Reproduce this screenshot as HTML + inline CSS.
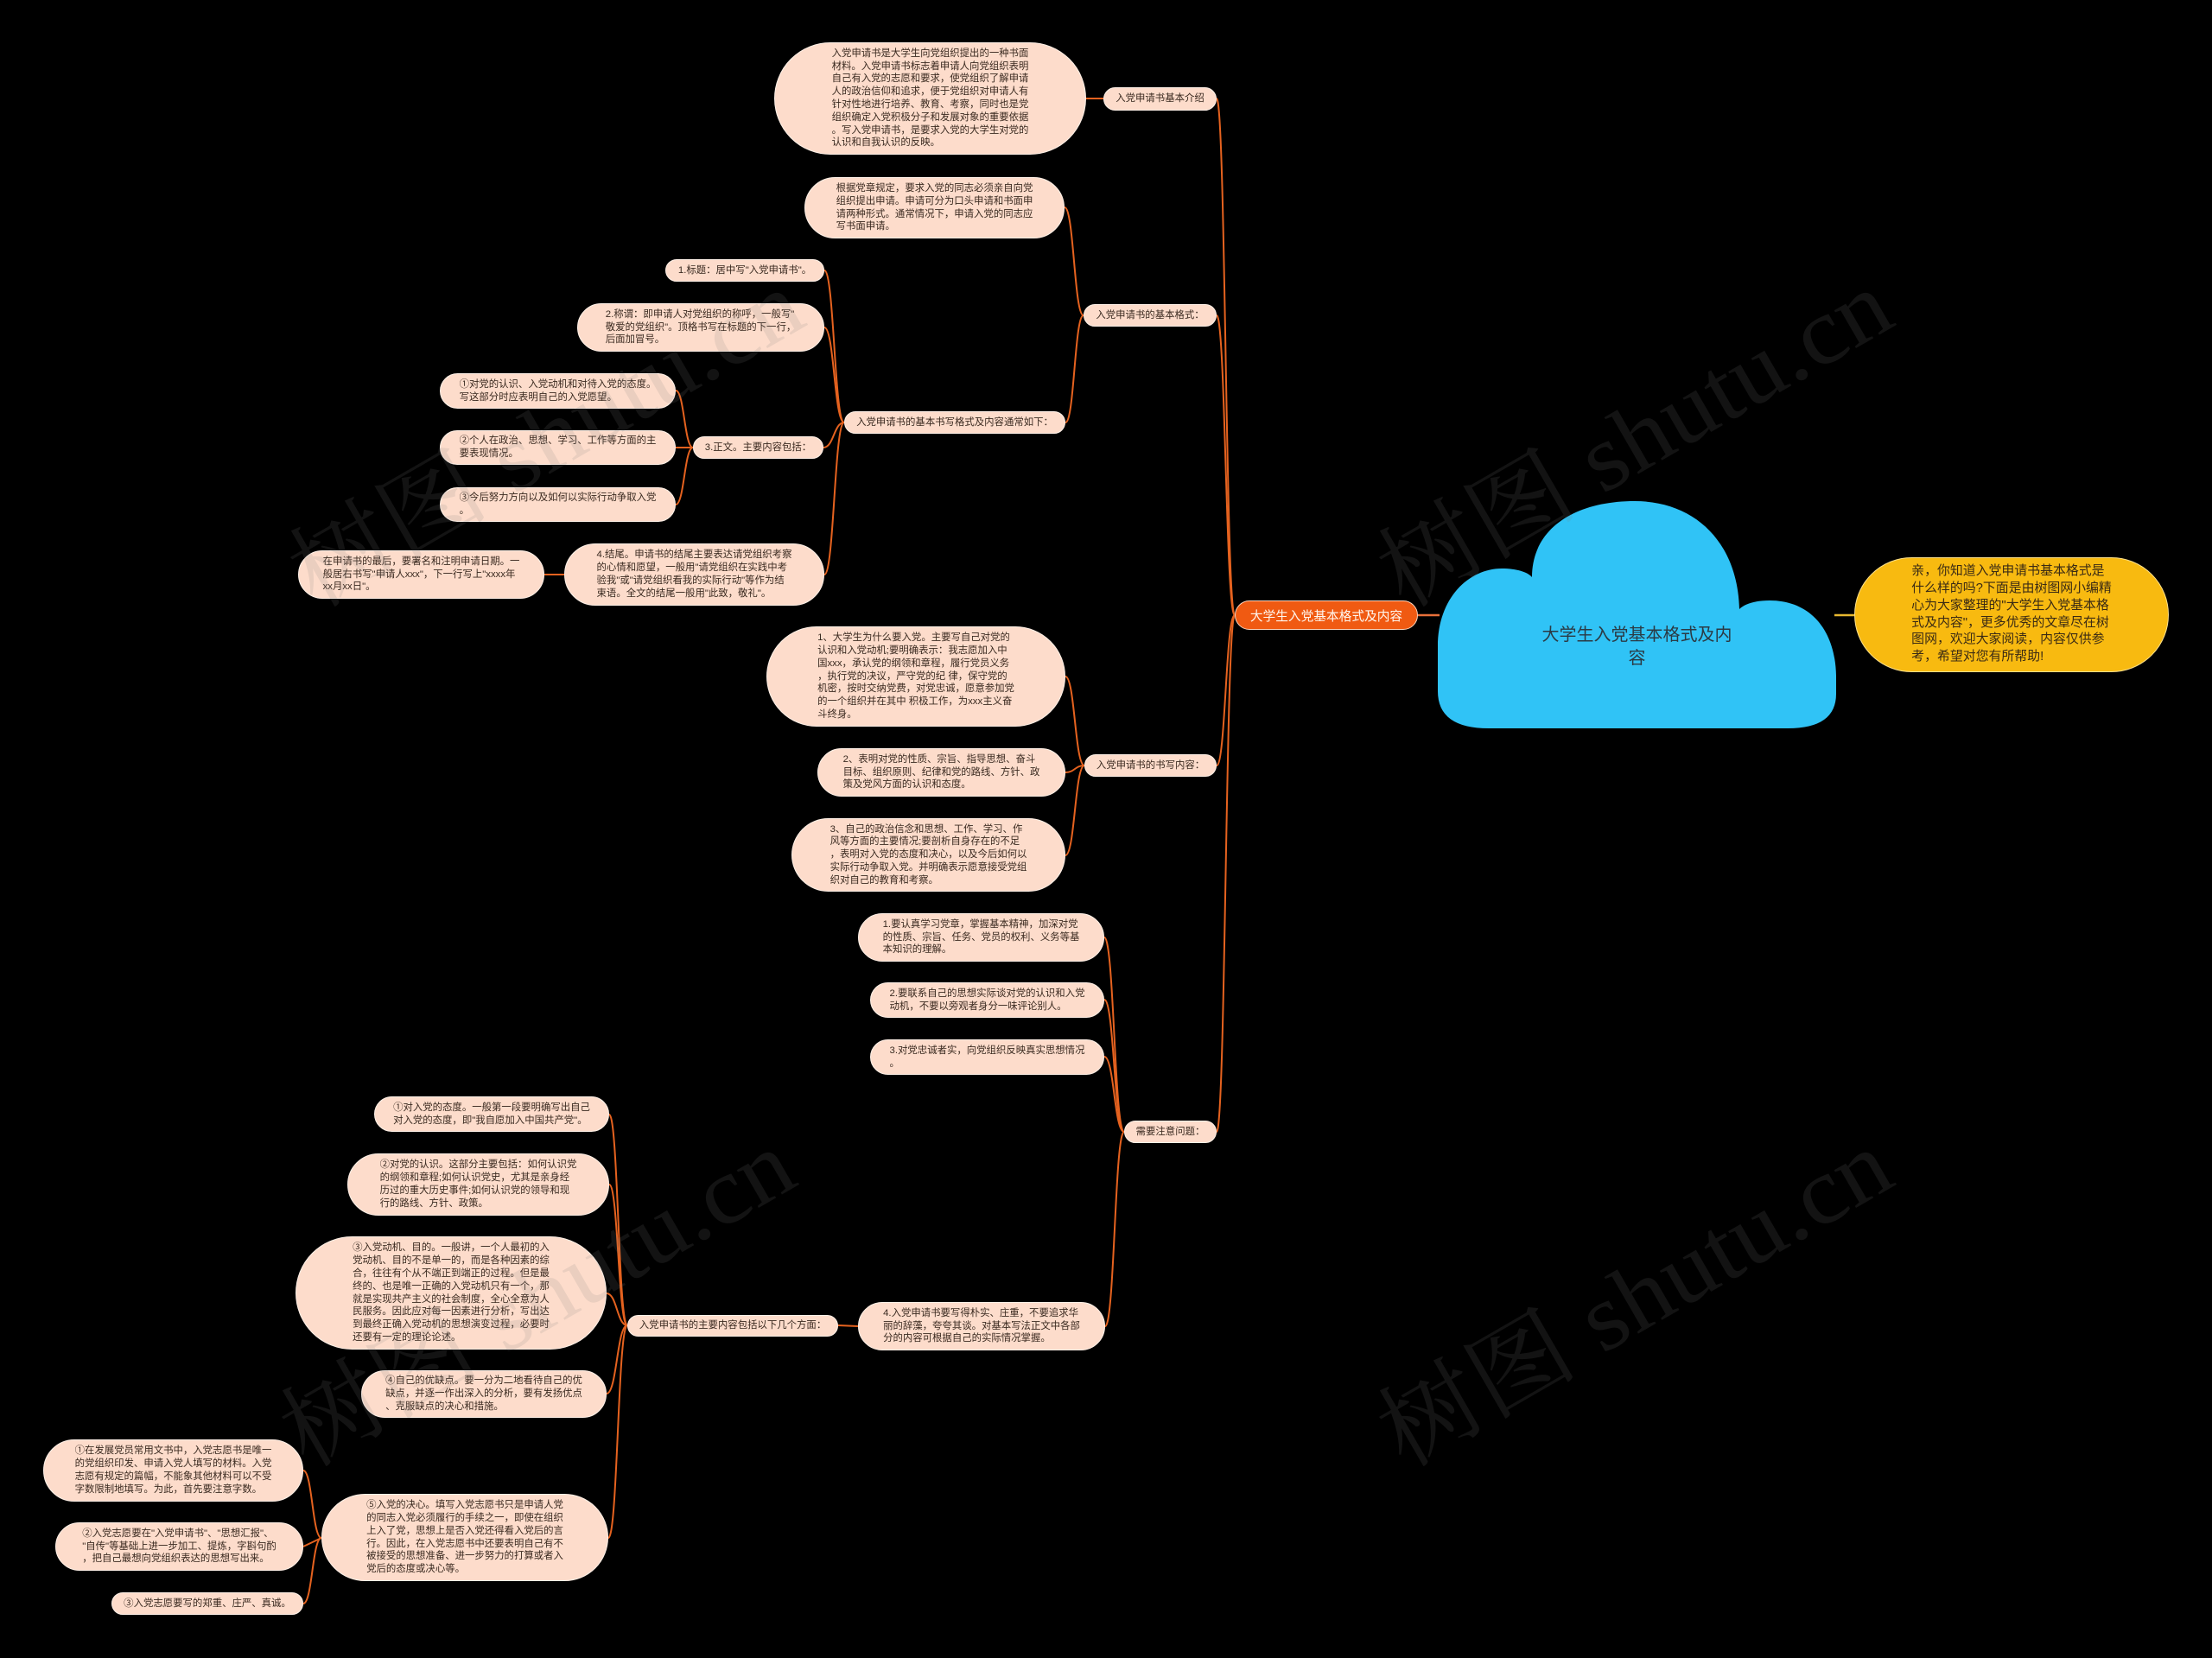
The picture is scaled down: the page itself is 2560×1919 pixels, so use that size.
<!DOCTYPE html>
<html lang="zh-CN">
<head>
<meta charset="utf-8">
<title>大学生入党基本格式及内容</title>
<style>
  html,body{margin:0;padding:0;}
  body{width:2560px;height:1919px;background:#000;position:relative;overflow:hidden;
       font-family:"Liberation Sans","Noto Sans CJK SC",sans-serif;}
  svg.layer{position:absolute;left:0;top:0;}
  .n{position:absolute;box-sizing:border-box;display:flex;align-items:center;justify-content:center;
     border-radius:999px;background:#fddccb;border:1px solid #fff1e8;color:#3a2a20;
     font-size:11.4px;line-height:14.8px;white-space:nowrap;}
  .n span{display:block;text-align:left;}
  .main{position:absolute;box-sizing:border-box;display:flex;align-items:center;justify-content:center;
     border-radius:999px;background:#f05a12;border:1.5px solid #fcd3bb;color:#fff6ee;
     font-size:14.7px;white-space:nowrap;}
  .yel{position:absolute;box-sizing:border-box;display:flex;align-items:center;justify-content:center;
     border-radius:999px;background:#f8ba10;border:1px solid #fde08a;color:#3a2a14;
     font-size:14.9px;line-height:19.7px;white-space:nowrap;}
  .yel span{display:block;text-align:left;}
  .cloudtxt{position:absolute;left:1664px;width:461px;top:722px;text-align:center;color:#2b3a44;
     font-size:20px;line-height:27px;}
</style>
</head>
<body>

<!-- connectors -->
<svg class="layer" width="2560" height="1919" viewBox="0 0 2560 1919">
  <g fill="none" stroke="#e5621f" stroke-width="2">
    <!-- main to branches -->
    <path d="M1429 712 C1418.5 712 1418.5 114 1408 114"/>
    <path d="M1429 712 C1418.5 712 1418.5 365 1408 365"/>
    <path d="M1429 712 C1418.5 712 1418.5 886 1408 886"/>
    <path d="M1429 712 C1418.5 712 1418.5 1310 1408 1310"/>
    <!-- intro -->
    <path d="M1277 114 L1257 114"/>
    <!-- basic format -->
    <path d="M1254 365 C1243 365 1243 240 1232 240"/>
    <path d="M1254 365 C1243.5 365 1243.5 489 1233 489"/>
    <!-- basic writing format -->
    <path d="M977 489 C965.5 489 965.5 313 954 313"/>
    <path d="M977 489 C965.5 489 965.5 379 954 379"/>
    <path d="M977 489 C965 489 965 518 953 518"/>
    <path d="M977 489 C965.5 489 965.5 665 954 665"/>
    <!-- body -->
    <path d="M802 518 C792 518 792 452 782 452"/>
    <path d="M802 518 L782 518"/>
    <path d="M802 518 C792 518 792 584 782 584"/>
    <!-- ending -->
    <path d="M653 665 L630 665"/>
    <!-- writing content -->
    <path d="M1255 886 C1244 886 1244 783 1233 783"/>
    <path d="M1255 886 C1244 886 1244 894 1233 894"/>
    <path d="M1255 886 C1244 886 1244 990 1233 990"/>
    <!-- notes -->
    <path d="M1301 1310 C1289.5 1310 1289.5 1085 1278 1085"/>
    <path d="M1301 1310 C1289.5 1310 1289.5 1157 1278 1157"/>
    <path d="M1301 1310 C1289.5 1310 1289.5 1223 1278 1223"/>
    <path d="M1301 1310 C1290 1310 1290 1535 1279 1535"/>
    <!-- note4 to main contents -->
    <path d="M993 1535 L970 1534"/>
    <!-- main contents -->
    <path d="M726 1534 C715.5 1534 715.5 1290 705 1290"/>
    <path d="M726 1534 C715.5 1534 715.5 1371 705 1371"/>
    <path d="M726 1534 C714 1534 714 1497 702 1497"/>
    <path d="M726 1534 C714 1534 714 1613 702 1613"/>
    <path d="M726 1534 C715 1534 715 1780 704 1780"/>
    <!-- resolve -->
    <path d="M372 1780 C361.5 1780 361.5 1702 351 1702"/>
    <path d="M372 1780 L351 1790"/>
    <path d="M372 1780 C361.5 1780 361.5 1856 351 1856"/>
    <!-- root to main -->
    <path d="M1641 712 L1666 712" stroke="#e8703a" stroke-width="2.5"/>
  </g>
  <path d="M2123 712 L2146 712" stroke="#e8b830" stroke-width="2.5" fill="none"/>

  <!-- cloud -->
  <path fill="#30c3f6" d="
    M1723 843
    Q1664 843 1664 800
    L1664 748
    C1664 692 1700 658 1738 658
    C1755 658 1768 662 1773 668
    C1773 612 1822 580 1892 580
    C1962 580 2011 628 2013 705
    C2020 698 2034 695 2048 695
    C2096 695 2124 730 2125 782
    L2125 803
    Q2125 843 2069 843
    Z"/>
</svg>

<div class="cloudtxt">大学生入党基本格式及内<br>容</div>

<!-- main topic -->
<div class="main" style="left:1429px;top:695px;width:212px;height:34px;">大学生入党基本格式及内容</div>

<!-- yellow summary -->
<div class="yel" style="left:2146px;top:645px;width:364px;height:133px;"><span>亲，你知道入党申请书基本格式是<br>什么样的吗?下面是由树图网小编精<br>心为大家整理的"大学生入党基本格<br>式及内容"，更多优秀的文章尽在树<br>图网，欢迎大家阅读，内容仅供参<br>考，希望对您有所帮助!</span></div>

<!-- branch: intro -->
<div class="n" style="left:1277px;top:101px;width:131px;height:27px;"><span>入党申请书基本介绍</span></div>
<div class="n" style="left:896px;top:49px;width:361px;height:130px;"><span>入党申请书是大学生向党组织提出的一种书面<br>材料。入党申请书标志着申请人向党组织表明<br>自己有入党的志愿和要求，使党组织了解申请<br>人的政治信仰和追求，便于党组织对申请人有<br>针对性地进行培养、教育、考察，同时也是党<br>组织确定入党积极分子和发展对象的重要依据<br>。写入党申请书，是要求入党的大学生对党的<br>认识和自我认识的反映。</span></div>

<!-- branch: basic format -->
<div class="n" style="left:1254px;top:352px;width:154px;height:26px;"><span>入党申请书的基本格式：</span></div>
<div class="n" style="left:931px;top:205px;width:301px;height:71px;"><span>根据党章规定，要求入党的同志必须亲自向党<br>组织提出申请。申请可分为口头申请和书面申<br>请两种形式。通常情况下，申请入党的同志应<br>写书面申请。</span></div>
<div class="n" style="left:977px;top:476px;width:256px;height:26px;"><span>入党申请书的基本书写格式及内容通常如下：</span></div>
<div class="n" style="left:770px;top:300px;width:184px;height:26px;"><span>1.标题：居中写"入党申请书"。</span></div>
<div class="n" style="left:668px;top:351px;width:286px;height:56px;"><span>2.称谓：即申请人对党组织的称呼，一般写"<br>敬爱的党组织"。顶格书写在标题的下一行，<br>后面加冒号。</span></div>
<div class="n" style="left:802px;top:505px;width:151px;height:26px;"><span>3.正文。主要内容包括：</span></div>
<div class="n" style="left:509px;top:432px;width:273px;height:41px;"><span>①对党的认识、入党动机和对待入党的态度。<br>写这部分时应表明自己的入党愿望。</span></div>
<div class="n" style="left:509px;top:498px;width:273px;height:40px;"><span>②个人在政治、思想、学习、工作等方面的主<br>要表现情况。</span></div>
<div class="n" style="left:509px;top:564px;width:273px;height:40px;"><span>③今后努力方向以及如何以实际行动争取入党<br>。</span></div>
<div class="n" style="left:653px;top:629px;width:301px;height:72px;"><span>4.结尾。申请书的结尾主要表达请党组织考察<br>的心情和愿望，一般用"请党组织在实践中考<br>验我"或"请党组织看我的实际行动"等作为结<br>束语。全文的结尾一般用"此致，敬礼"。</span></div>
<div class="n" style="left:345px;top:637px;width:285px;height:56px;"><span>在申请书的最后，要署名和注明申请日期。一<br>般居右书写"申请人xxx"，下一行写上"xxxx年<br>xx月xx日"。</span></div>

<!-- branch: writing content -->
<div class="n" style="left:1255px;top:873px;width:153px;height:26px;"><span>入党申请书的书写内容：</span></div>
<div class="n" style="left:887px;top:725px;width:346px;height:116px;"><span>1、大学生为什么要入党。主要写自己对党的<br>认识和入党动机;要明确表示：我志愿加入中<br>国xxx，承认党的纲领和章程，履行党员义务<br>，执行党的决议，严守党的纪 律，保守党的<br>机密，按时交纳党费，对党忠诚，愿意参加党<br>的一个组织并在其中 积极工作，为xxx主义奋<br>斗终身。</span></div>
<div class="n" style="left:946px;top:866px;width:287px;height:56px;"><span>2、表明对党的性质、宗旨、指导思想、奋斗<br>目标、组织原则、纪律和党的路线、方针、政<br>策及党风方面的认识和态度。</span></div>
<div class="n" style="left:916px;top:947px;width:317px;height:85px;"><span>3、自己的政治信念和思想、工作、学习、作<br>风等方面的主要情况;要剖析自身存在的不足<br>，表明对入党的态度和决心，以及今后如何以<br>实际行动争取入党。并明确表示愿意接受党组<br>织对自己的教育和考察。</span></div>

<!-- branch: notes -->
<div class="n" style="left:1301px;top:1297px;width:107px;height:26px;"><span>需要注意问题：</span></div>
<div class="n" style="left:993px;top:1057px;width:285px;height:56px;"><span>1.要认真学习党章，掌握基本精神，加深对党<br>的性质、宗旨、任务、党员的权利、义务等基<br>本知识的理解。</span></div>
<div class="n" style="left:1007px;top:1137px;width:271px;height:41px;"><span>2.要联系自己的思想实际谈对党的认识和入党<br>动机，不要以旁观者身分一味评论别人。</span></div>
<div class="n" style="left:1007px;top:1203px;width:271px;height:41px;"><span>3.对党忠诚者实，向党组织反映真实思想情况<br>。</span></div>
<div class="n" style="left:993px;top:1507px;width:286px;height:56px;"><span>4.入党申请书要写得朴实、庄重，不要追求华<br>丽的辞藻，夸夸其谈。对基本写法正文中各部<br>分的内容可根据自己的实际情况掌握。</span></div>
<div class="n" style="left:726px;top:1522px;width:244px;height:25px;"><span>入党申请书的主要内容包括以下几个方面：</span></div>
<div class="n" style="left:433px;top:1269px;width:272px;height:41px;"><span>①对入党的态度。一般第一段要明确写出自己<br>对入党的态度，即"我自愿加入中国共产党"。</span></div>
<div class="n" style="left:402px;top:1335px;width:303px;height:72px;"><span>②对党的认识。这部分主要包括：如何认识党<br>的纲领和章程;如何认识党史，尤其是亲身经<br>历过的重大历史事件;如何认识党的领导和现<br>行的路线、方针、政策。</span></div>
<div class="n" style="left:342px;top:1431px;width:360px;height:131px;"><span>③入党动机、目的。一般讲，一个人最初的入<br>党动机、目的不是单一的，而是各种因素的综<br>合，往往有个从不端正到端正的过程。但是最<br>终的、也是唯一正确的入党动机只有一个，那<br>就是实现共产主义的社会制度，全心全意为人<br>民服务。因此应对每一因素进行分析，写出达<br>到最终正确入党动机的思想演变过程，必要时<br>还要有一定的理论论述。</span></div>
<div class="n" style="left:418px;top:1586px;width:284px;height:55px;"><span>④自己的优缺点。要一分为二地看待自己的优<br>缺点，并逐一作出深入的分析，要有发扬优点<br>、克服缺点的决心和措施。</span></div>
<div class="n" style="left:372px;top:1729px;width:332px;height:101px;"><span>⑤入党的决心。填写入党志愿书只是申请人党<br>的同志入党必须履行的手续之一，即使在组织<br>上入了党，思想上是否入党还得看入党后的言<br>行。因此，在入党志愿书中还要表明自己有不<br>被接受的思想准备、进一步努力的打算或者入<br>党后的态度或决心等。</span></div>
<div class="n" style="left:50px;top:1666px;width:301px;height:72px;"><span>①在发展党员常用文书中，入党志愿书是唯一<br>的党组织印发、申请入党人填写的材料。入党<br>志愿有规定的篇幅，不能象其他材料可以不受<br>字数限制地填写。为此，首先要注意字数。</span></div>
<div class="n" style="left:64px;top:1762px;width:287px;height:56px;"><span>②入党志愿要在"入党申请书"、"思想汇报"、<br>"自传"等基础上进一步加工、提炼，字斟句酌<br>，把自己最想向党组织表达的思想写出来。</span></div>
<div class="n" style="left:129px;top:1843px;width:222px;height:26px;"><span>③入党志愿要写的郑重、庄严、真诚。</span></div>

<!-- watermarks -->
<svg class="layer" width="2560" height="1919" viewBox="0 0 2560 1919" style="pointer-events:none;">
  <g fill="rgba(128,128,128,0.15)" font-family="Liberation Serif, Noto Serif CJK SC, serif" font-size="110">
    <text x="0" y="0" textLength="660" lengthAdjust="spacingAndGlyphs" transform="translate(365 705) rotate(-30)">树图 shutu.cn</text>
    <text x="0" y="0" textLength="660" lengthAdjust="spacingAndGlyphs" transform="translate(1625 705) rotate(-30)">树图 shutu.cn</text>
    <text x="0" y="0" textLength="660" lengthAdjust="spacingAndGlyphs" transform="translate(355 1700) rotate(-30)">树图 shutu.cn</text>
    <text x="0" y="0" textLength="660" lengthAdjust="spacingAndGlyphs" transform="translate(1625 1700) rotate(-30)">树图 shutu.cn</text>
  </g>
</svg>

</body>
</html>
